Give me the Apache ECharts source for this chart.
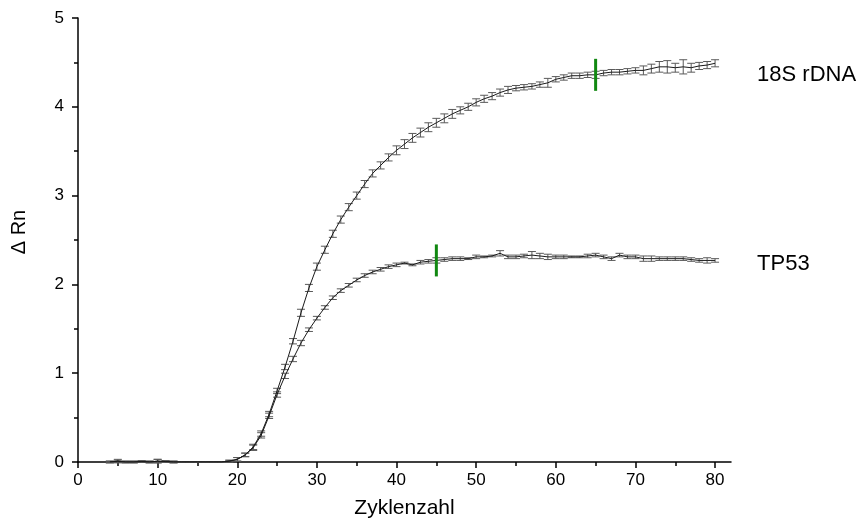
<!DOCTYPE html>
<html>
<head>
<meta charset="utf-8">
<script src="https://cdn.jsdelivr.net/npm/echarts@6/dist/echarts.min.js"></script>
<style>html,body{margin:0;padding:0;background:#fff}#c{width:864px;height:520px}</style>
</head>
<body>
<div id="c"></div>
<script>
// Cycles 4..80
const cycles = [];
for (let c = 4; c <= 80; c++) cycles.push(c);

const rdna18S = [
  0.00, 0.01, 0.00, 0.00, 0.005, 0.00, 0.01, 0.005, 0.00,   // 4-12
  0.00, 0.00, 0.00, 0.00, 0.00, 0.00,                        // 13-18
  0.01, 0.03, 0.08, 0.17, 0.32, 0.54, 0.80, 1.07, 1.36, 1.68, // 19-28
  1.96, 2.20, 2.39, 2.57, 2.73, 2.87, 3.00, 3.13, 3.25, 3.34, // 29-38
  3.43, 3.51, 3.58, 3.65, 3.71, 3.77, 3.82, 3.87, 3.92, 3.96, // 39-48
  4.00, 4.05, 4.09, 4.12, 4.16, 4.19, 4.21, 4.22, 4.23, 4.25, // 49-58
  4.27, 4.31, 4.33, 4.35, 4.35, 4.36, 4.36, 4.38, 4.39, 4.39, // 59-68
  4.40, 4.41, 4.41, 4.43, 4.45, 4.45, 4.44, 4.45, 4.44, 4.46, // 69-78
  4.47, 4.49                                                 // 79-80
];
const rdna18SErr = [
  0.01, 0.02, 0.01, 0.01, 0.01, 0.01, 0.02, 0.01, 0.01,
  0.00, 0.00, 0.00, 0.00, 0.00, 0.00,
  0.01, 0.02, 0.02, 0.03, 0.03, 0.03, 0.03, 0.03, 0.03, 0.04,
  0.04, 0.04, 0.04, 0.04, 0.04, 0.04, 0.04, 0.04, 0.04, 0.04,
  0.04, 0.05, 0.05, 0.05, 0.05, 0.05, 0.05, 0.05, 0.05, 0.04,
  0.04, 0.04, 0.04, 0.04, 0.04, 0.04, 0.03, 0.03, 0.03, 0.03,
  0.05, 0.03, 0.03, 0.03, 0.03, 0.03, 0.04, 0.03, 0.03, 0.03,
  0.03, 0.03, 0.05, 0.05, 0.06, 0.07, 0.05, 0.08, 0.05, 0.04,
  0.04, 0.04
];

const tp53 = [
  0.00, 0.01, 0.00, 0.00, 0.005, 0.00, 0.01, 0.005, 0.00,
  0.00, 0.00, 0.00, 0.00, 0.00, 0.00,
  0.01, 0.03, 0.08, 0.16, 0.30, 0.52, 0.76, 0.97, 1.16, 1.34, // 19-28
  1.49, 1.62, 1.74, 1.85, 1.93, 1.99, 2.05, 2.10, 2.14, 2.17, // 29-38
  2.20, 2.22, 2.24, 2.22, 2.25, 2.26, 2.27, 2.28, 2.29, 2.29, // 39-48
  2.29, 2.31, 2.31, 2.32, 2.35, 2.31, 2.31, 2.32, 2.33, 2.32, // 49-58
  2.31, 2.31, 2.31, 2.31, 2.31, 2.32, 2.33, 2.31, 2.29, 2.33, // 59-68
  2.31, 2.31, 2.29, 2.29, 2.29, 2.29, 2.29, 2.29, 2.28, 2.27, // 69-78
  2.27, 2.27
];
const tp53Err = [
  0.01, 0.01, 0.01, 0.01, 0.01, 0.01, 0.02, 0.01, 0.01,
  0.00, 0.00, 0.00, 0.00, 0.00, 0.00,
  0.01, 0.02, 0.02, 0.03, 0.03, 0.03, 0.03, 0.03, 0.03, 0.03,
  0.02, 0.02, 0.02, 0.02, 0.02, 0.02, 0.02, 0.02, 0.02, 0.02,
  0.02, 0.02, 0.01, 0.01, 0.02, 0.02, 0.03, 0.02, 0.02, 0.02,
  0.01, 0.02, 0.01, 0.01, 0.03, 0.02, 0.02, 0.02, 0.04, 0.03,
  0.03, 0.02, 0.02, 0.01, 0.01, 0.02, 0.02, 0.02, 0.02, 0.02,
  0.02, 0.02, 0.03, 0.03, 0.02, 0.02, 0.02, 0.02, 0.02, 0.02,
  0.03, 0.02
];

const seriesNames = ['18S rDNA', 'TP53'];
const ctMarks = [[65, 4.36], [45, 2.27]];  // threshold-cycle markers
const xTicks = [0, 10, 20, 30, 40, 50, 60, 70, 80];

function pairs(vals) { return cycles.map((c, i) => [c, vals[i]]); }
function errData(vals, errs) { return cycles.map((c, i) => [c, vals[i] - errs[i], vals[i] + errs[i]]); }

function errRender(params, api) {
  const x = api.value(0);
  const lo = api.coord([x, api.value(1)]);
  const hi = api.coord([x, api.value(2)]);
  const w = 4;
  const style = { stroke: '#5a5a5a', lineWidth: 1 };
  return {
    type: 'group',
    children: [
      { type: 'line', shape: { x1: lo[0], y1: lo[1], x2: hi[0], y2: hi[1] }, style },
      { type: 'line', shape: { x1: lo[0] - w, y1: lo[1], x2: lo[0] + w, y2: lo[1] }, style },
      { type: 'line', shape: { x1: hi[0] - w, y1: hi[1], x2: hi[0] + w, y2: hi[1] }, style }
    ]
  };
}
function markRender(params, api) {
  const p = api.coord([api.value(0), api.value(1)]);
  return { type: 'line', shape: { x1: p[0], y1: p[1] - 16, x2: p[0], y2: p[1] + 16 },
           style: { stroke: '#118811', lineWidth: 3 } };
}

const font = 'Liberation Sans, Arial, sans-serif';
const chart = echarts.init(document.getElementById('c'));
chart.setOption({
  animation: false,
  backgroundColor: '#fff',
  grid: { left: 78, right: 133, top: 18, bottom: 58, containLabel: false, outerBoundsMode: 'none' },
  xAxis: {
    type: 'value', min: 0, max: 82, interval: 10,
    name: 'Zyklenzahl', nameLocation: 'middle', nameGap: 36,
    nameTextStyle: { fontFamily: font, fontSize: 21, color: '#000' },
    axisLine: { show: true, lineStyle: { color: '#000', width: 1.5 } },
    axisTick: { show: true, length: 6, lineStyle: { color: '#000', width: 1.5 },
      customValues: xTicks },
    minorTick: { show: true, splitNumber: 2, length: 4, lineStyle: { color: '#000', width: 1.5 } },
    axisLabel: { fontFamily: font, fontSize: 17, color: '#000', margin: 10, customValues: xTicks },
    splitLine: { show: false }
  },
  yAxis: {
    type: 'value', min: 0, max: 5, interval: 1,
    name: 'Δ Rn', nameLocation: 'middle', nameGap: 49, nameRotate: 90,
    nameTextStyle: { fontFamily: font, fontSize: 20, color: '#000', padding: [0, 0, 0, 16] },
    axisLine: { show: true, lineStyle: { color: '#000', width: 1.5 } },
    axisTick: { show: true, length: 6, lineStyle: { color: '#000', width: 1.5 } },
    minorTick: { show: true, splitNumber: 2, length: 4, lineStyle: { color: '#000', width: 1.5 } },
    axisLabel: { fontFamily: font, fontSize: 17, color: '#000', margin: 14 },
    splitLine: { show: false }
  },
  series: [
    { type: 'custom', renderItem: errRender, data: errData(rdna18S, rdna18SErr), encode: { x: 0, y: [1, 2] }, z: 2 },
    { type: 'custom', renderItem: errRender, data: errData(tp53, tp53Err), encode: { x: 0, y: [1, 2] }, z: 2 },
    { name: seriesNames[0], type: 'line', data: pairs(rdna18S), showSymbol: false, z: 3,
      lineStyle: { color: '#1a1a1a', width: 1 },
      endLabel: { show: true, formatter: seriesNames[0], distance: 42, offset: [0, 12],
        fontFamily: font, fontSize: 22, color: '#000' } },
    { name: seriesNames[1], type: 'line', data: pairs(tp53), showSymbol: false, z: 3,
      lineStyle: { color: '#1a1a1a', width: 1 },
      endLabel: { show: true, formatter: seriesNames[1], distance: 42, offset: [0, 4],
        fontFamily: font, fontSize: 22, color: '#000' } },
    { type: 'custom', renderItem: markRender, data: ctMarks, encode: { x: 0, y: 1 }, z: 4 }
  ]
});
</script>
</body>
</html>
